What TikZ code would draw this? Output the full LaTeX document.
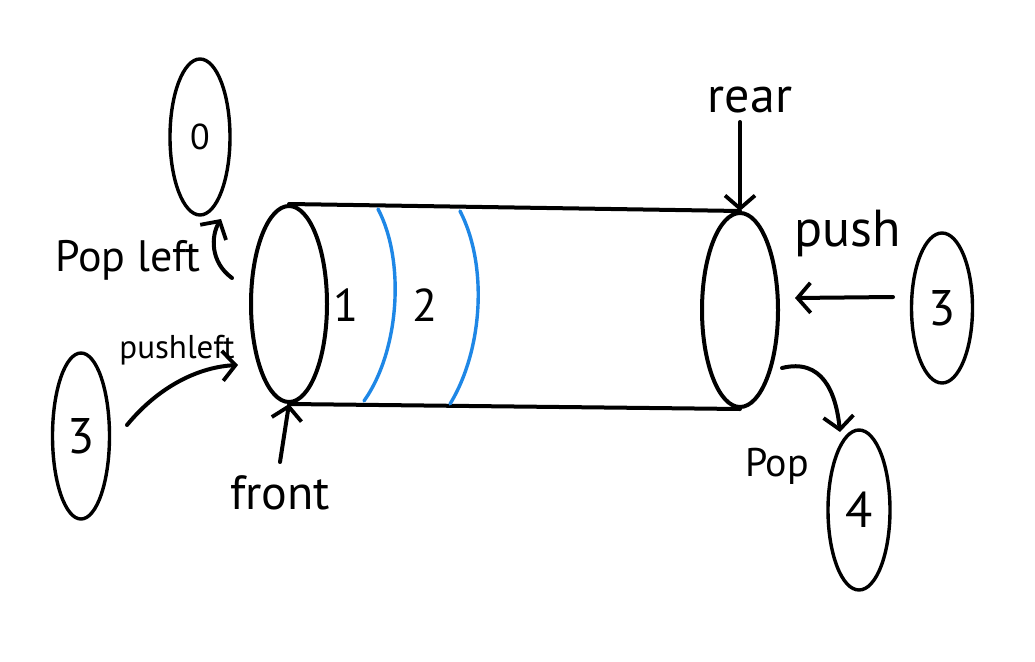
\documentclass[tikz,border=0pt]{standalone}
\usepackage{fontspec}
\setmainfont{PT Sans}
\usetikzlibrary{arrows.meta,shapes.geometric}
\begin{document}
\begin{tikzpicture}[x=1pt,y=-1pt,
 ln/.style={line width=4pt, line cap=round},
 oval/.style={ellipse, draw, line width=3.4pt, inner sep=0pt},
 arr/.style={ln, -{Straight Barb[length=13pt,width=30pt,line width=3.8pt]}},
 lbl/.style={inner sep=0pt},
 bluecurve/.style={line width=3.4pt, draw={rgb,255:red,30;green,135;blue,230}, line cap=round},
]
\useasboundingbox[fill=white] (0,0) rectangle (1035,661);
% cylinder
\node[oval, line width=4pt, minimum width=76pt, minimum height=196pt] (lend) at (289,304) {};
\node[oval, line width=4pt, minimum width=76pt, minimum height=194pt] (rend) at (740,310) {};
\draw[ln] (lend.north) -- (rend.north);
\draw[ln] (lend.south) -- (rend.south);
% blue separators
\coordinate (b1t) at (378,209);
\coordinate (b1b) at (364,401);
\coordinate (b2t) at (460,211);
\coordinate (b2b) at (450,404);
\draw[bluecurve] (b1t) .. controls (405,260) and (400,350) .. (b1b);
\draw[bluecurve] (b2t) .. controls (488,265) and (483,350) .. (b2b);
\node[lbl, font=\fontsize{46}{46}\selectfont] (n1) at (346,305) {1};
\node[lbl, font=\fontsize{46}{46}\selectfont] (n2) at (425,305) {2};
% value ovals
\node[oval, minimum width=60pt, minimum height=156pt, font=\fontsize{36}{36}\selectfont] (v0) at (200,137) {0};
\node[oval, minimum width=57pt, minimum height=166pt, font=\fontsize{50}{50}\selectfont] (v3l) at (81,436) {3};
\node[oval, minimum width=61pt, minimum height=150pt, font=\fontsize{50}{50}\selectfont] (v3r) at (942,308) {3};
\node[oval, minimum width=62pt, minimum height=160pt, font=\fontsize{50}{50}\selectfont] (v4) at (859,510) {4};
% labels
\node[lbl, font=\fontsize{50}{50}\selectfont] (rear) at (750,100) {rear};
\node[lbl, font=\fontsize{52}{52}\selectfont] (push) at (848,233) {push};
\node[lbl, font=\fontsize{44}{44}\selectfont] (popleft) at (128,260) {Pop left};
\node[lbl, font=\fontsize{33}{33}\selectfont] (pushleft) at (177,350) {pushleft};
\node[lbl, font=\fontsize{48}{48}\selectfont] (front) at (280,493) {front};
\node[lbl, font=\fontsize{40}{40}\selectfont] (pop) at (777,466) {Pop};
% arrows
\coordinate (plS) at (232,278);
\coordinate (plE) at (221,219);
\draw[arr] (plS) .. controls (210,262) and (211,236) .. (plE);
\coordinate (pushlS) at (127,425);
\coordinate (pushlE) at (238,365);
\draw[arr] (pushlS) .. controls (160,385) and (200,367) .. (pushlE);
\coordinate (frS) at (280,462);
\draw[arr] (frS) -- (lend.south);
\coordinate (reS) at (740,122);
\draw[arr] (reS) -- (rend.north);
\coordinate (puS) at (893,297);
\coordinate (puE) at (795,298);
\draw[arr] (puS) -- (puE);
\coordinate (poS) at (782,368);
\coordinate (poE) at (840,432);
\draw[arr] (poS) .. controls (822,358) and (836,392) .. (poE);
\end{tikzpicture}
\end{document}
